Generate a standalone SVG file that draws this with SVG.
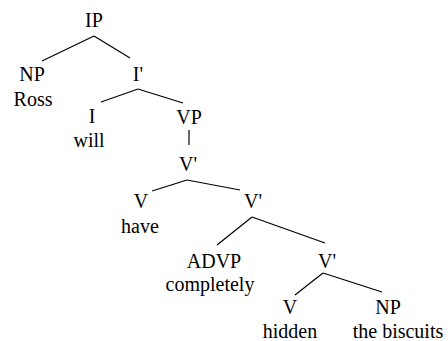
<svg xmlns="http://www.w3.org/2000/svg" width="448" height="341" viewBox="0 0 448 341">
<style>
.e line{stroke:#000;stroke-width:1.2}
</style>
<rect width="448" height="341" fill="#fff"/>
<g id="edges" class="e">
<line x1="94" y1="36" x2="42" y2="61"/>
<line x1="94" y1="36" x2="130" y2="58"/>
<line x1="138" y1="89" x2="101" y2="102"/>
<line x1="138" y1="89" x2="183" y2="103"/>
<line x1="189" y1="130" x2="189" y2="145"/>
<line x1="187" y1="180" x2="152" y2="191"/>
<line x1="187" y1="180" x2="240" y2="190"/>
<line x1="252" y1="217" x2="217" y2="245"/>
<line x1="252" y1="217" x2="325" y2="243"/>
<line x1="323" y1="273" x2="295" y2="295"/>
<line x1="323" y1="273" x2="382" y2="292"/>
</g>
<g font-family="Liberation Serif, Times New Roman, serif" font-size="20" fill="#000" text-anchor="middle">
<g id="IP"><text x="94" y="27">IP</text></g>
<g id="NP1"><text x="32" y="81">NP</text><text x="33" y="106">Ross</text></g>
<g id="Ibar"><text x="138" y="81">I'</text></g>
<g id="I"><text x="92" y="123">I</text><text x="89" y="147">will</text></g>
<g id="VP"><text x="189" y="124">VP</text></g>
<g id="Vbar1"><text x="188" y="171">V'</text></g>
<g id="V1"><text x="141" y="208">V</text><text x="140" y="233">have</text></g>
<g id="Vbar2"><text x="253" y="208">V'</text></g>
<g id="ADVP"><text x="214" y="268">ADVP</text><text x="210" y="291">completely</text></g>
<g id="Vbar3"><text x="327" y="268">V'</text></g>
<g id="V2"><text x="290" y="314">V</text><text x="290" y="338">hidden</text></g>
<g id="NP2"><text x="388" y="314">NP</text><text x="398" y="338">the biscuits</text></g>
</g>
</svg>
